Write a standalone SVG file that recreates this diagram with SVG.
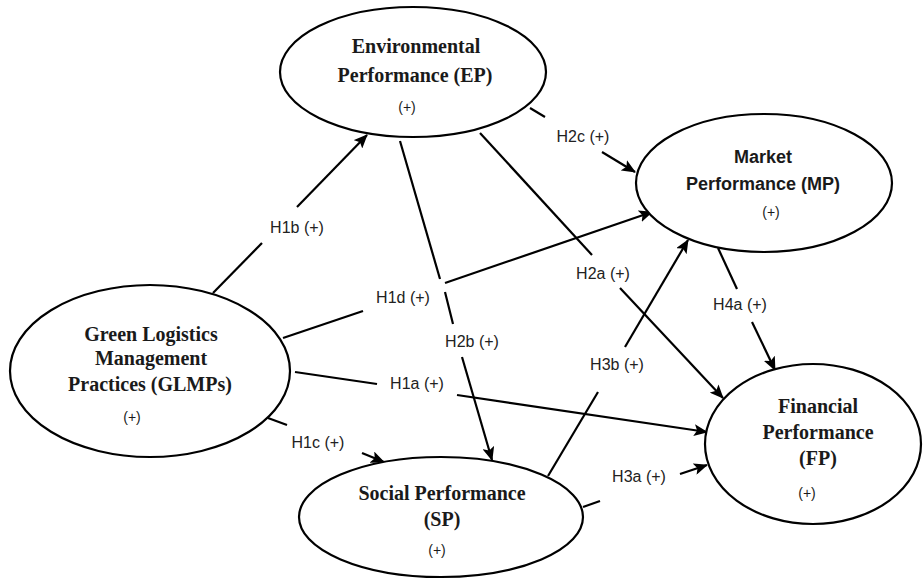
<svg xmlns="http://www.w3.org/2000/svg" width="923" height="579" viewBox="0 0 923 579">
<style>
.node{fill:#fff;stroke:#000;stroke-width:2.2}
.serif{font-family:"Liberation Serif","Times New Roman",serif;font-weight:bold;font-size:20px;fill:#1a1a1a;text-anchor:middle}
.sansb{font-family:"Liberation Sans",Arial,sans-serif;font-weight:bold;font-size:18px;fill:#1a1a1a;text-anchor:middle}
.plus{font-family:"Liberation Sans",Arial,sans-serif;font-size:14px;fill:#1a1a1a;text-anchor:middle}
.lbl{font-family:"Liberation Sans",Arial,sans-serif;font-size:16px;fill:#222;text-anchor:middle}
.edge line{stroke:#000;stroke-width:2.2}
.edge line.arr{marker-end:url(#ah)}
</style>
<defs>
<marker id="ah" markerUnits="userSpaceOnUse" markerWidth="14" markerHeight="12" viewBox="0 0 14 12" refX="13" refY="6" orient="auto">
<path d="M0,0 L14,6 L0,12 L3,6 Z" fill="#000"/>
</marker>
</defs>
<rect width="923" height="579" fill="#fff"/>
<g id="connectors" class="edge">
<line x1="213" y1="293" x2="262" y2="243"/>
<line class="arr" x1="297" y1="207" x2="367" y2="135"/>
<line x1="400" y1="141" x2="440" y2="279"/>
<line x1="445" y1="292" x2="453" y2="324"/>
<line class="arr" x1="462" y1="357" x2="492" y2="460"/>
<line x1="283" y1="338" x2="363" y2="311"/>
<line class="arr" x1="445" y1="283" x2="652" y2="212"/>
<line x1="480" y1="133" x2="592" y2="255"/>
<line class="arr" x1="620" y1="288" x2="723" y2="398"/>
<line x1="530" y1="108" x2="545" y2="117"/>
<line class="arr" x1="602" y1="152" x2="635" y2="172"/>
<line x1="295" y1="372" x2="377" y2="384"/>
<line class="arr" x1="457" y1="395" x2="707" y2="432"/>
<line x1="548" y1="476" x2="598" y2="392"/>
<line class="arr" x1="625" y1="347" x2="688" y2="240"/>
<line x1="718" y1="248" x2="737" y2="289"/>
<line class="arr" x1="752" y1="322" x2="775" y2="370"/>
<line x1="583" y1="507" x2="600" y2="501"/>
<line class="arr" x1="680" y1="474" x2="707" y2="465"/>
<line x1="268" y1="418" x2="287" y2="425"/>
<line class="arr" x1="362" y1="453" x2="384" y2="462"/>
<text class="lbl" x="297" y="233">H1b (+)</text>
<text class="lbl" x="403" y="303">H1d (+)</text>
<text class="lbl" x="472" y="347">H2b (+)</text>
<text class="lbl" x="417" y="389">H1a (+)</text>
<text class="lbl" x="603" y="279">H2a (+)</text>
<text class="lbl" x="617" y="370">H3b (+)</text>
<text class="lbl" x="740" y="310">H4a (+)</text>
<text class="lbl" x="583" y="142">H2c (+)</text>
<text class="lbl" x="318" y="448">H1c (+)</text>
<text class="lbl" x="639" y="482">H3a (+)</text>
</g>
<g id="EP">
<ellipse class="node" cx="413" cy="72" rx="133" ry="65"/>
<text class="serif" x="416" y="53">Environmental</text>
<text class="serif" x="415" y="82">Performance (EP)</text>
<text class="plus" x="407" y="112">(+)</text>
</g>
<g id="MP">
<ellipse class="node" cx="764" cy="183" rx="128" ry="69"/>
<text class="sansb" x="763" y="163">Market</text>
<text class="sansb" x="763" y="190">Performance (MP)</text>
<text class="plus" x="771" y="217">(+)</text>
</g>
<g id="GLMPs">
<ellipse class="node" cx="150" cy="371" rx="140" ry="86"/>
<text class="serif" x="151" y="341">Green Logistics</text>
<text class="serif" x="151" y="365">Management</text>
<text class="serif" x="150" y="391">Practices (GLMPs)</text>
<text class="plus" x="132" y="422">(+)</text>
</g>
<g id="SP">
<ellipse class="node" cx="441" cy="517" rx="142" ry="60"/>
<text class="serif" x="442" y="500">Social Performance</text>
<text class="serif" x="442" y="526">(SP)</text>
<text class="plus" x="437" y="555">(+)</text>
</g>
<g id="FP">
<ellipse class="node" cx="813" cy="444" rx="108" ry="80"/>
<text class="serif" x="818" y="413">Financial</text>
<text class="serif" x="818" y="439">Performance</text>
<text class="serif" x="818" y="465">(FP)</text>
<text class="plus" x="807" y="498">(+)</text>
</g>
</svg>
